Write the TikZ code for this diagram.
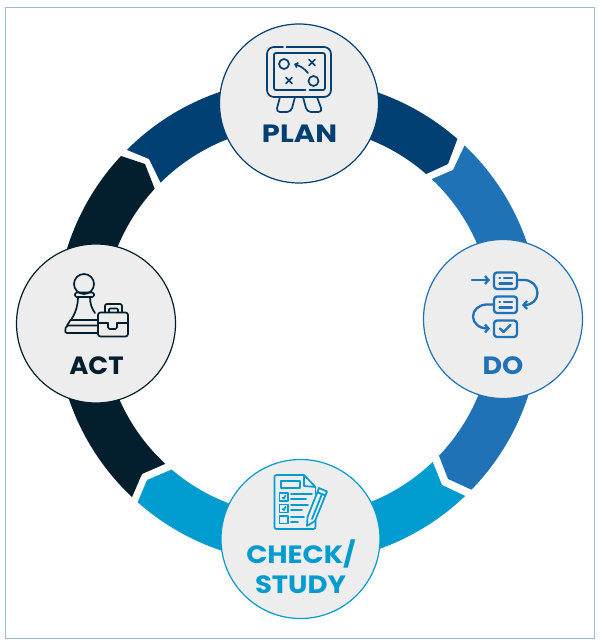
\documentclass[tikz,border=0pt]{standalone}
\usepackage{fontspec}
\usepackage{graphicx}
\newfontfamily\labfont{Poppins}
\usetikzlibrary{arrows.meta,calc}
\definecolor{cplan}{HTML}{003F72}
\definecolor{cdo}{HTML}{1F72B6}
\definecolor{ccheck}{HTML}{009CCF}
\definecolor{cact}{HTML}{031F2E}
\definecolor{cbg}{HTML}{EDEDED}
\definecolor{cframe}{HTML}{9DBBD6}
\tikzset{
  hub/.style={circle,draw=#1,fill=cbg,line width=1.2pt,minimum size=159pt,inner sep=0pt},
  lab/.style={text=#1,font=\labfont\bfseries\fontsize{25}{25}\selectfont,inner sep=0pt,text height=18pt,text depth=0pt,anchor=center},
  ic/.style={draw=#1,line width=1.7pt,line cap=round,line join=round,fill=none},
  ib/.style={draw=#1,line width=2.3pt,line cap=round,line join=round,fill=none},
  bar/.style={-{Straight Barb[length=3.5pt,width=8pt,line width=2.3pt]}}
}
\newcommand{\ringseg}[7]{%
  \fill[#1] ($(c)+(#2:242pt)$) arc[start angle=#2,end angle=#3,radius=242pt]
    -- #7 -- ($(c)+(#5:195pt)$) arc[start angle=#5,end angle=#4,radius=195pt] -- #6 -- cycle;}
\begin{document}
\begin{tikzpicture}[x=1pt,y=-1pt]
\useasboundingbox (0,0) rectangle (600,644);
\fill[white] (0,0) rectangle (600,644);
\draw[cframe,line width=0.9pt] (5.5,7) rectangle (594.5,638);
\coordinate (c) at (298,321);
% ring
\ringseg{cplan}{135}{48.8}{134.8}{48.9}{(149,159)}{(448,164)}
\ringseg{cdo}{46.5}{-44.2}{46.7}{-43.7}{(453,170)}{(448,479)}
\ringseg{ccheck}{-46.3}{-131.5}{-46.3}{-130.4}{(442,485)}{(147,480)}
\ringseg{cact}{226.7}{137}{227.1}{137.3}{(142,474)}{(145,164)}
% hubs
\node[hub=cplan] (plan) at (299,103.5) {};
\node[hub=cdo] (do) at (503,319) {};
\node[hub=ccheck] (check) at (300.5,539) {};
\node[hub=cact] (act) at (96,323.5) {};
% labels
\node[lab=cplan] (lplan) at (299.5,134) {\scalebox{1.16}[1]{PLAN}};
\node[lab=cdo] (ldo) at (503,365.5) {\scalebox{1.08}[1]{DO}};
\node[lab=ccheck] (lcheck) at (301,554) {\scalebox{1.11}[1]{CHECK/}};
\node[lab=ccheck] (lstudy) at (300.5,584) {\scalebox{1.1}[1]{STUDY}};
\node[lab=cact] (lact) at (96.5,365.5) {\scalebox{1.04}[1]{ACT}};
% PLAN icon
\begin{scope}[ic=cplan]
\draw[rounded corners=7pt] (283,47) -- (267,47) -- (267,97) -- (331,97) -- (331,47) -- (286.5,47);
\draw[rounded corners=2pt] (305.5,90) -- (274,90) -- (274,53) -- (325,53) -- (325,90) -- (309.5,90);
\draw (284,64) circle[radius=5pt];
\draw (313.5,81) circle[radius=5pt];
\draw (309,59.5) -- (315,65.5) (315,59.5) -- (309,65.5);
\draw (286,77.5) -- (292,83.5) (292,77.5) -- (286,83.5);
\draw[-{Straight Barb[length=2.5pt,width=5pt]}] (308,73) .. controls (304,68) and (300,66) .. (294,64);
\draw[rounded corners=4pt] (280,97) -- (276,112) -- (291,112) -- (295,97);
\draw[rounded corners=4pt] (303,97) -- (307,112) -- (322.5,112) -- (317,97);
\end{scope}
% DO icon
\begin{scope}[ib=cdo]
\draw[rounded corners=3pt] (494,272.5) rectangle (517,289);
\draw[rounded corners=3pt] (494,296.5) rectangle (517,313);
\draw[rounded corners=3pt] (494,320.5) rectangle (517,337);
\draw (499.5,277.7) -- (500,277.7) (504,277.7) -- (512,277.7) (499.5,283.5) -- (512,283.5);
\draw (499.5,301.7) -- (500,301.7) (504,301.7) -- (512,301.7) (499.5,307.5) -- (512,307.5);
\draw (500,328.5) -- (503.5,332) -- (510.5,325);
\draw[bar] (472,280) -- (490,280);
\draw[bar] (517,280) -- (524,280) .. controls (532,280) and (537.5,286) .. (537.5,293) .. controls (537.5,300) and (532,305) .. (522,305);
\draw[bar] (494,304.5) -- (487,304.5) .. controls (479,304.5) and (473,310) .. (473,316.5) .. controls (473,323) and (479,328.5) .. (490,328.5);
\end{scope}
% CHECK icon
\begin{scope}[ic=ccheck]
\draw (304,475) -- (315.5,487) -- (304,486) -- cycle;
\draw (315.5,487) -- (315.5,494);
\draw[rounded corners=2pt] (304,475) -- (274.5,475) -- (274.5,529) -- (315.5,529) -- (315.5,520);
\draw (281,481) rectangle (300,488);
\draw (279.5,493) rectangle (288,501);
\draw (279.5,504.5) rectangle (288,512.5);
\draw (279.5,516) rectangle (288,523.5);
\draw (282.5,497.5) -- (284,498.5) -- (285.5,495.5);
\draw (282.5,509) -- (284,510) -- (285.5,507);
\draw (291,494) -- (312,494) (291,499) -- (306,499) (291,505) -- (308,505) (291,510) -- (302,510) (291,517) -- (304,517) (291,522) -- (298,522);
\draw (307,526) -- (307.5,517) -- (319,488) -- (327,491.5) -- (315,521) -- cycle;
\draw (318,492.5) -- (325.5,495.5) (312,519) -- (322,494);
\end{scope}
% ACT icon
\begin{scope}[ic=cact]
\draw (84,284) circle[radius=10pt];
\draw[rounded corners=1.5pt] (75,292.5) -- (94,292.5) -- (94,297) -- (75,297) -- cycle;
\draw (78,297) .. controls (78,306) and (75,314) .. (71,320);
\draw (90,297) .. controls (90,304) and (92,309) .. (95,313);
\draw (70.5,320) -- (97,320);
\draw[rounded corners=2pt] (97,325.5) -- (66,325.5) -- (65,333) -- (97,333);
\draw (70.5,320) -- (67,325.5);
\draw[rounded corners=2.5pt] (98,312.5) rectangle (128,336.5);
\draw[rounded corners=2pt] (105,312.5) -- (105,304) -- (122,304) -- (122,312.5);
\draw[rounded corners=1pt] (109,312.5) -- (109,308.5) -- (118,308.5) -- (118,312.5);
\draw (98,323) -- (108,323) (117,323) -- (128,323);
\draw[rounded corners=1.5pt] (108,323) -- (108,329) -- (117,329) -- (117,323);
\end{scope}
\end{tikzpicture}
\end{document}
